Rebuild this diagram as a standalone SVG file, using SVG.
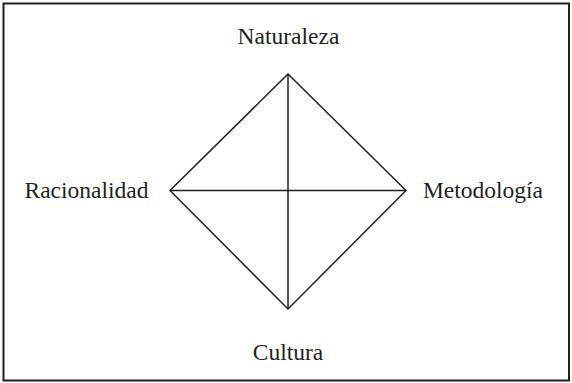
<svg xmlns="http://www.w3.org/2000/svg" width="572" height="383" viewBox="0 0 572 383">
<style>
.lbl{font-family:"Liberation Serif","Times New Roman",serif;font-size:23.5px;fill:#231f20;text-anchor:middle}
.ln{stroke:#231f20;stroke-width:1.5;fill:none}
</style>
<rect x="0" y="0" width="572" height="383" fill="#ffffff"/>
<rect x="3.5" y="3.5" width="565.5" height="377" fill="none" stroke="#231f20" stroke-width="2"/>
<g id="connectors">
<polygon class="ln" points="288,74 406,190.5 288,309 170,190.5"/>
<line class="ln" x1="288" y1="74" x2="288" y2="309"/>
<line class="ln" x1="170" y1="190.5" x2="406" y2="190.5"/>
</g>
<g id="naturaleza"><text class="lbl" x="288.5" y="44">Naturaleza</text></g>
<g id="racionalidad"><text class="lbl" x="86.5" y="197.5">Racionalidad</text></g>
<g id="metodologia"><text class="lbl" x="483" y="197.5">Metodología</text></g>
<g id="cultura"><text class="lbl" x="288" y="360">Cultura</text></g>
</svg>
